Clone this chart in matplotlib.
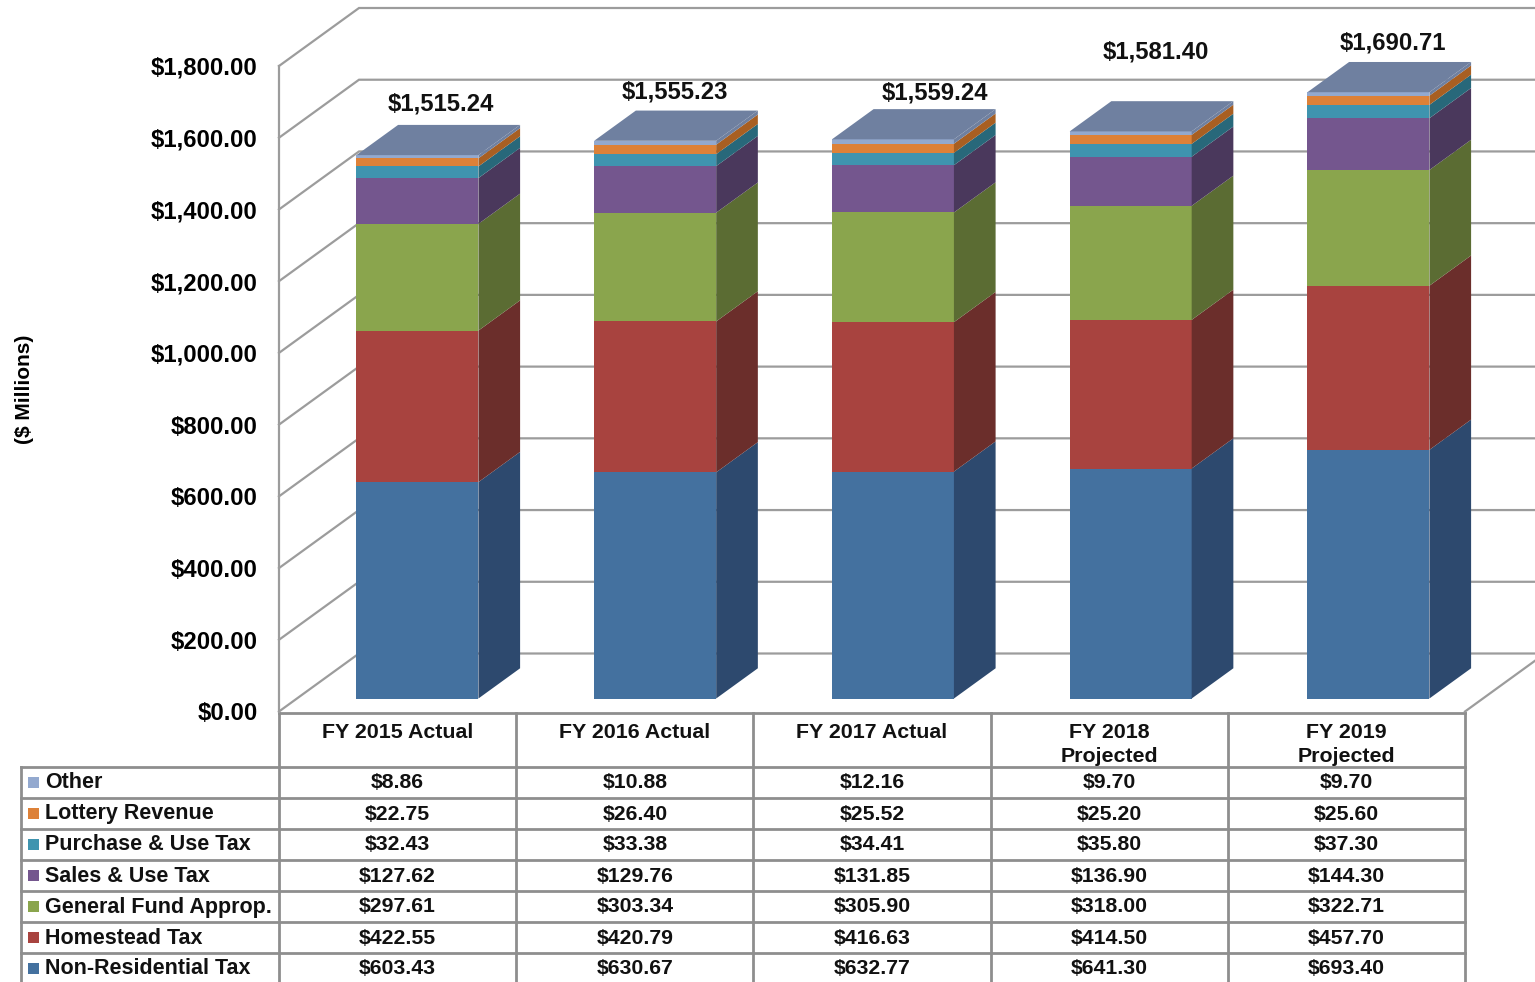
import numpy as np
import matplotlib.pyplot as plt

plt.rcParams["font.family"] = ["Liberation Sans", "DejaVu Sans"]
plt.rcParams["font.weight"] = "bold"

# ============================================================
# DATA
# ============================================================

years = ["FY 2015 Actual", "FY 2016 Actual", "FY 2017 Actual",
         "FY 2018\nProjected", "FY 2019\nProjected"]

non_residential = [603.43, 630.67, 632.77, 641.30, 693.40]
homestead = [422.55, 420.79, 416.63, 414.50, 457.70]
general_fund = [297.61, 303.34, 305.90, 318.00, 322.71]
sales_use = [127.62, 129.76, 131.85, 136.90, 144.30]
purchase_use = [32.43, 33.38, 34.41, 35.80, 37.30]
lottery = [22.75, 26.40, 25.52, 25.20, 25.60]
other = [8.86, 10.88, 12.16, 9.70, 9.70]

totals = [1515.24, 1555.23, 1559.24, 1581.40, 1690.71]

y_ticks = np.arange(0, 1801, 200)

# bottom of the stack first
series = [
    ("Non-Residential Tax", non_residential, "#44719f", "#2d496e"),
    ("Homestead Tax", homestead, "#a8433f", "#6b2e2b"),
    ("General Fund Approp.", general_fund, "#8aa54d", "#5b6c33"),
    ("Sales & Use Tax", sales_use, "#74568e", "#4a385c"),
    ("Purchase & Use Tax", purchase_use, "#3f94af", "#28687a"),
    ("Lottery Revenue", lottery, "#dd8138", "#a85f22"),
    ("Other", other, "#93a9cf", "#6f80a0"),
]

# ============================================================
# LAYOUT (pixels)
# ============================================================

W, H = 1535, 982
plot_left, plot_right = 279, 1465
plot_top, plot_bottom = 66, 711.5
table_left = 21
row_lines = [767, 798, 829, 860, 891, 922, 953]
label_xy = [(441, 104), (675, 92), (935, 93), (1156, 52), (1393, 43)]

grid_color = "#9c9c9c"
table_color = "#8e8e8e"
top_color = "#6f80a0"

fig = plt.figure(figsize=(W / 100, H / 100), dpi=100)

# overlay in pixel coordinates for the table and free labels
tbl = fig.add_axes([0, 0, 1, 1])
tbl.set_xlim(0, W)
tbl.set_ylim(H, 0)
tbl.axis("off")

ax = fig.add_axes([
    plot_left / W,
    1 - plot_bottom / H,
    (plot_right - plot_left) / W,
    (plot_bottom - plot_top) / H,
])
ax.patch.set_visible(False)
ax.set_xlim(0, 5)
ax.set_ylim(0, 1800)

# size of one depth unit of the 3D box, in data units
px_x = (plot_right - plot_left) / 5
px_y = (plot_bottom - plot_top) / 1800
depth_x = 80 / px_x
depth_y = 58 / px_y


def project(x, v, d):
    return x + d * depth_x, v + d * depth_y


# ============================================================
# WALLS AND GRID
# ============================================================

for v in y_ticks:
    x0, y0 = project(0, v, 0)
    x1, y1 = project(0, v, 1)
    x2, y2 = project(5, v, 1)
    ax.plot([x0, x1, x2], [y0, y1, y2], color=grid_color, lw=1.6,
            clip_on=False, zorder=1, solid_joinstyle="miter")

fx, fy = project(5, 0, 1)
ax.plot([5, fx], [0, fy], color=grid_color, lw=1.6, clip_on=False, zorder=1)

# ============================================================
# STACKED BARS
# ============================================================

bar_width = 122 / px_x
bar_pitch = 237.75 / px_x
bar_start = 59.5 / px_x
d_front, d_back = 0.224, 0.745

for i in range(len(years)):
    x0 = bar_start + i * bar_pitch
    x1 = x0 + bar_width
    base = 0.0

    for name, values, front, side in series:
        top = base + values[i]

        xa, ya = project(x0, base, d_front)
        xb, yb = project(x1, top, d_front)
        ax.fill([xa, xb, xb, xa], [ya, ya, yb, yb], color=front, lw=0,
                clip_on=False, zorder=3)

        pts = [project(x1, base, d_front), project(x1, base, d_back),
               project(x1, top, d_back), project(x1, top, d_front)]
        ax.fill(*zip(*pts), color=side, lw=0, clip_on=False, zorder=3)

        base = top

    pts = [project(x0, base, d_front), project(x1, base, d_front),
           project(x1, base, d_back), project(x0, base, d_back)]
    ax.fill(*zip(*pts), color=top_color, lw=0, clip_on=False, zorder=3)

# ============================================================
# AXES
# ============================================================

for s in ["top", "right", "bottom"]:
    ax.spines[s].set_visible(False)
ax.spines["left"].set_color(grid_color)
ax.spines["left"].set_linewidth(1.6)

ax.set_xticks([])
ax.set_yticks(y_ticks)
ax.set_yticklabels([f"${v:,.2f}" for v in y_ticks], fontsize=17.2)
ax.tick_params(axis="y", length=0, pad=15.5)

tbl.text(24, 389, "($ Millions)", rotation=90, ha="center", va="center",
         fontsize=15)

for (x, y), total in zip(label_xy, totals):
    tbl.text(x, y, f"${total:,.2f}", ha="center", va="center",
             fontsize=17.2, color="#111111")

# ============================================================
# DATA TABLE
# ============================================================

col_w = (plot_right - plot_left) / len(years)
col_edges = [plot_left + col_w * k for k in range(len(years) + 1)]

lw_table = 2.0
tbl.plot([plot_left, plot_right], [plot_bottom + 1, plot_bottom + 1],
         color=table_color, lw=lw_table)
for y in row_lines:
    tbl.plot([table_left, plot_right], [y, y], color=table_color, lw=lw_table)
for x in col_edges:
    tbl.plot([x, x], [plot_bottom + 1, H], color=table_color, lw=lw_table)
tbl.plot([table_left, table_left], [row_lines[0], H], color=table_color,
         lw=lw_table)

for i, year in enumerate(years):
    cx = col_edges[i] + col_w / 2
    lines = year.split("\n")
    for n, line in enumerate(lines):
        tbl.text(cx, 732 + n * 25, line, ha="center", va="center",
                 fontsize=15.4, color="#111111")

row_mid = [r + 15 for r in row_lines]
for y, (name, values, front, side) in zip(row_mid, reversed(series)):
    tbl.fill([28, 39, 39, 28], [y - 5.5, y - 5.5, y + 5.5, y + 5.5],
             color=front, lw=0)
    tbl.text(45, y + 1, name, ha="left", va="center", fontsize=15.5,
             color="#111111")
    for i, v in enumerate(values):
        tbl.text(col_edges[i] + col_w / 2, y + 1, f"${v:,.2f}", ha="center",
                 va="center", fontsize=15.3, color="#111111")

plt.savefig("out.png", dpi=100)
plt.close()
